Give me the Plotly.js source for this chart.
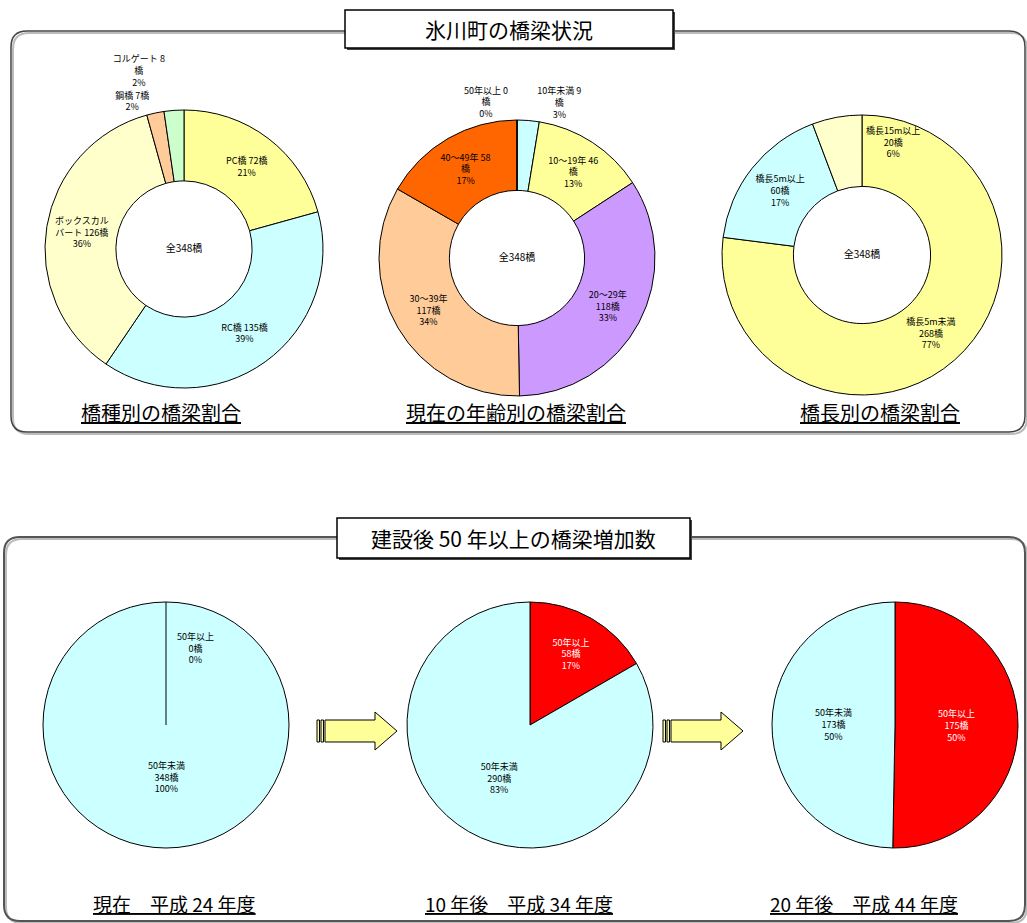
<!DOCTYPE html>
<html>
<head>
<meta charset="utf-8">
<script src="https://cdn.plot.ly/plotly-3.0.1.min.js"></script>
<style>html,body{margin:0;padding:0;background:#fff;}#chart{width:1027px;height:923px;}
path.textline{stroke-opacity:0 !important;}</style>
</head>
<body>
<div id="chart"></div>
<script>
// ---- data ----
const mainTitle = '氷川町の橋梁状況';
const subTitle2 = '建設後 50 年以上の橋梁増加数';
const totalText = '全348橋';

// 橋種別
const typeLabels = ['PC橋', 'RC橋', 'ボックスカル<br>バート', '鋼橋', 'コルゲート'];
const typeCounts = [72, 135, 126, 7, 8];
const typePct = ['21%', '39%', '36%', '2%', '2%'];
const typeColors = ['#ffff99', '#ccffff', '#ffffcc', '#ffcc99', '#ccffcc'];

// 年齢別
const ageLabels = ['10年未満', '10～19年', '20～29年', '30～39年', '40～49年', '50年以上'];
const ageCounts = [9, 46, 118, 117, 58, 0];
const agePct = ['3%', '13%', '33%', '34%', '17%', '0%'];
const ageColors = ['#ccffff', '#ffff99', '#cc99ff', '#ffcc99', '#ff6600', '#ff0000'];

// 橋長別
const lenLabels = ['橋長5m未満', '橋長5m以上', '橋長15m以上'];
const lenCounts = [268, 60, 20];
const lenPct = ['77%', '17%', '6%'];
const lenColors = ['#ffff99', '#ccffff', '#ffffcc'];

// 建設後50年以上
const oldLabels = ['50年以上', '50年未満'];
const oldNow = [0, 348];
const old10 = [58, 290];
const old20 = [175, 173];
const oldPctNow = ['0%', '100%'];
const oldPct10 = ['17%', '83%'];
const oldPct20 = ['50%', '50%'];
const oldColors = ['#ff0000', '#ccffff'];
const oldTextColors = ['#ffffff', '#000000'];

const topCaptions = ['橋種別の橋梁割合', '現在の年齢別の橋梁割合', '橋長別の橋梁割合'];
const bottomCaptions = ['現在　平成 24 年度', '10 年後　平成 34 年度', '20 年後　平成 44 年度'];

// ---- helpers ----
const W = 1027, H = 923;
const X = p => p / W;
const Y = p => 1 - p / H;
const FONT = '"Noto Sans CJK JP", "Noto Sans", sans-serif';
function dom(cx, cy, r) {
  return {x: [X(cx - r), X(cx + r)], y: [Y(cy + r), Y(cy - r)]};
}
const lineStyle = {color: '#000', width: 1};

function donut(labels, values, pct, colors, templates, positions, d) {
  return {
    type: 'pie', labels: labels, values: values, text: pct,
    texttemplate: templates, textposition: positions,
    insidetextorientation: 'horizontal',
    marker: {colors: colors, line: lineStyle},
    sort: false, direction: 'clockwise', rotation: 0, hole: 0.49,
    domain: d,
    textfont: {family: FONT, size: 9, color: '#000'},
    title: {text: totalText, position: 'middle center', font: {family: FONT, size: 10, color: '#000'}},
    hoverinfo: 'label+value+percent', showlegend: false
  };
}
function pie(values, pct, d, pos) {
  return {
    type: 'pie', labels: oldLabels, values: values, text: pct,
    texttemplate: '%{label}<br>%{value}橋<br>%{text}', textposition: pos || 'inside',
    insidetextorientation: 'horizontal',
    marker: {colors: oldColors, line: lineStyle},
    sort: false, direction: 'clockwise', rotation: 0,
    domain: d,
    textfont: {family: FONT, size: 9, color: oldTextColors},
    hoverinfo: 'label+value+percent', showlegend: false
  };
}

const T1 = '%{label} %{value}橋<br>%{text}';
const T2 = '%{label} %{value}<br>橋<br>%{text}';
const T3 = '%{label}<br>%{value}橋<br>%{text}';

const P1 = [184, 249, 139], P2 = [517, 258, 138], P3 = [862, 255, 140];
const Q1 = [166, 725, 123], Q2 = [530, 725, 123], Q3 = [895, 725, 123];

const data = [
  donut(typeLabels, typeCounts, typePct, typeColors,
        [T1, T1, T1, T1, T2], ['inside', 'inside', 'inside', 'outside', 'outside'], dom(...P1)),
  donut(ageLabels, ageCounts, agePct, ageColors,
        [T2, T2, T3, T3, T2, T2], ['outside', 'inside', 'inside', 'inside', 'inside', 'outside'], dom(...P2)),
  // the small 15m slice label is drawn separately (as in the original, it sits in the large slice)
  donut(lenLabels, lenCounts, lenPct, lenColors,
        [T3, T3, ''], ['inside', 'inside', 'none'], dom(...P3)),
  pie(oldNow, oldPctNow, dom(...Q1), 'none'),
  pie(old10, oldPct10, dom(...Q2)),
  pie(old20, oldPct20, dom(...Q3))
];

// ---- decorations ----
function roundRect(x0, y0, x1, y1, r) {
  const P = (x, y) => X(x).toFixed(5) + ',' + Y(y).toFixed(5);
  return 'M' + P(x0 + r, y0) + ' L' + P(x1 - r, y0) + ' Q' + P(x1, y0) + ' ' + P(x1, y0 + r) +
    ' L' + P(x1, y1 - r) + ' Q' + P(x1, y1) + ' ' + P(x1 - r, y1) +
    ' L' + P(x0 + r, y1) + ' Q' + P(x0, y1) + ' ' + P(x0, y1 - r) +
    ' L' + P(x0, y0 + r) + ' Q' + P(x0, y0) + ' ' + P(x0 + r, y0) + ' Z';
}
function rect(x0, y0, x1, y1, fill, lw, col) {
  return {type: 'rect', xref: 'paper', yref: 'paper', x0: X(x0), x1: X(x1), y0: Y(y1), y1: Y(y0),
          fillcolor: fill, line: {color: col || '#000', width: lw}};
}
function arrow(x0, y) {
  const P = (a, b) => X(a).toFixed(5) + ',' + Y(b).toFixed(5);
  const bx = x0 + 8, hx = x0 + 58, tip = x0 + 80;
  const path = 'M' + P(bx, y - 11) + ' L' + P(hx, y - 11) + ' L' + P(hx, y - 19) + ' L' + P(tip, y) +
    ' L' + P(hx, y + 19) + ' L' + P(hx, y + 11) + ' L' + P(bx, y + 11) + ' Z';
  return [
    {type: 'path', xref: 'paper', yref: 'paper', path: path, fillcolor: '#ffff99', line: {color: '#000', width: 1}},
    rect(x0, y - 11, x0 + 2.5, y + 11, '#ffff99', 1),
    rect(x0 + 4, y - 11, x0 + 6.5, y + 11, '#ffff99', 1)
  ];
}

const shapes = [
  {type: 'path', xref: 'paper', yref: 'paper', path: roundRect(13, 33, 1027, 434, 16), line: {color: '#bbbbbb', width: 2}},
  {type: 'path', xref: 'paper', yref: 'paper', path: roundRect(11, 31, 1025, 432, 16), line: {color: '#444', width: 1.5}},
  {type: 'path', xref: 'paper', yref: 'paper', path: roundRect(6, 539, 1027, 923, 16), line: {color: '#bbbbbb', width: 2}},
  {type: 'path', xref: 'paper', yref: 'paper', path: roundRect(4, 537, 1025, 921, 16), line: {color: '#555', width: 2}},
  rect(347, 12, 675, 50, '#444', 0, '#444'),
  rect(345, 10, 673, 48, '#ffffff', 1.5),
  rect(339, 520, 692, 560, '#444', 0, '#444'),
  rect(337, 518, 690, 558, '#ffffff', 1.5),
  // boundary of the zero-size slice in the "now" pie (centre to top of that pie)
  {type: 'line', xref: 'paper', yref: 'paper', x0: X(Q1[0]), x1: X(Q1[0]), y0: Y(Q1[1]), y1: Y(Q1[1] - Q1[2]),
   line: {color: '#000', width: 1}}
].concat(arrow(317, 731), arrow(663, 731));

function ann(text, x, y, size, color) {
  return {text: text, x: X(x), y: Y(y), xref: 'paper', yref: 'paper', showarrow: false,
          xanchor: 'center', yanchor: 'middle', font: {family: FONT, size: size, color: color || '#000'}};
}
const u = s => '<span style="text-decoration:underline">' + s + '</span>';
const annotations = [
  ann(mainTitle, 509, 29, 21),
  ann(subTitle2, 513, 538, 21),
  ann(u(topCaptions[0]), 161, 413, 20),
  ann(u(topCaptions[1]), 516, 413, 20),
  ann(u(topCaptions[2]), 880, 413, 20),
  ann(u(bottomCaptions[0]), 174, 903, 19),
  ann(u(bottomCaptions[1]), 519, 903, 19),
  ann(u(bottomCaptions[2]), 864, 903, 19),
  // labels the library cannot place where the original has them
  ann(lenLabels[2] + '<br>' + lenCounts[2] + '橋<br>' + lenPct[2], 893, 142, 9),
  ann(oldLabels[0] + '<br>' + oldNow[0] + '橋<br>' + oldPctNow[0], 195, 648, 9),
  ann(oldLabels[1] + '<br>' + oldNow[1] + '橋<br>' + oldPctNow[1], 166, 777, 9)
];

const layout = {
  width: W, height: H, margin: {l: 0, r: 0, t: 0, b: 0},
  paper_bgcolor: '#ffffff', plot_bgcolor: '#ffffff',
  showlegend: false, shapes: shapes, annotations: annotations,
  font: {family: FONT}
};
Plotly.newPlot('chart', data, layout, {displayModeBar: false, staticPlot: true});
</script>
</body>
</html>
